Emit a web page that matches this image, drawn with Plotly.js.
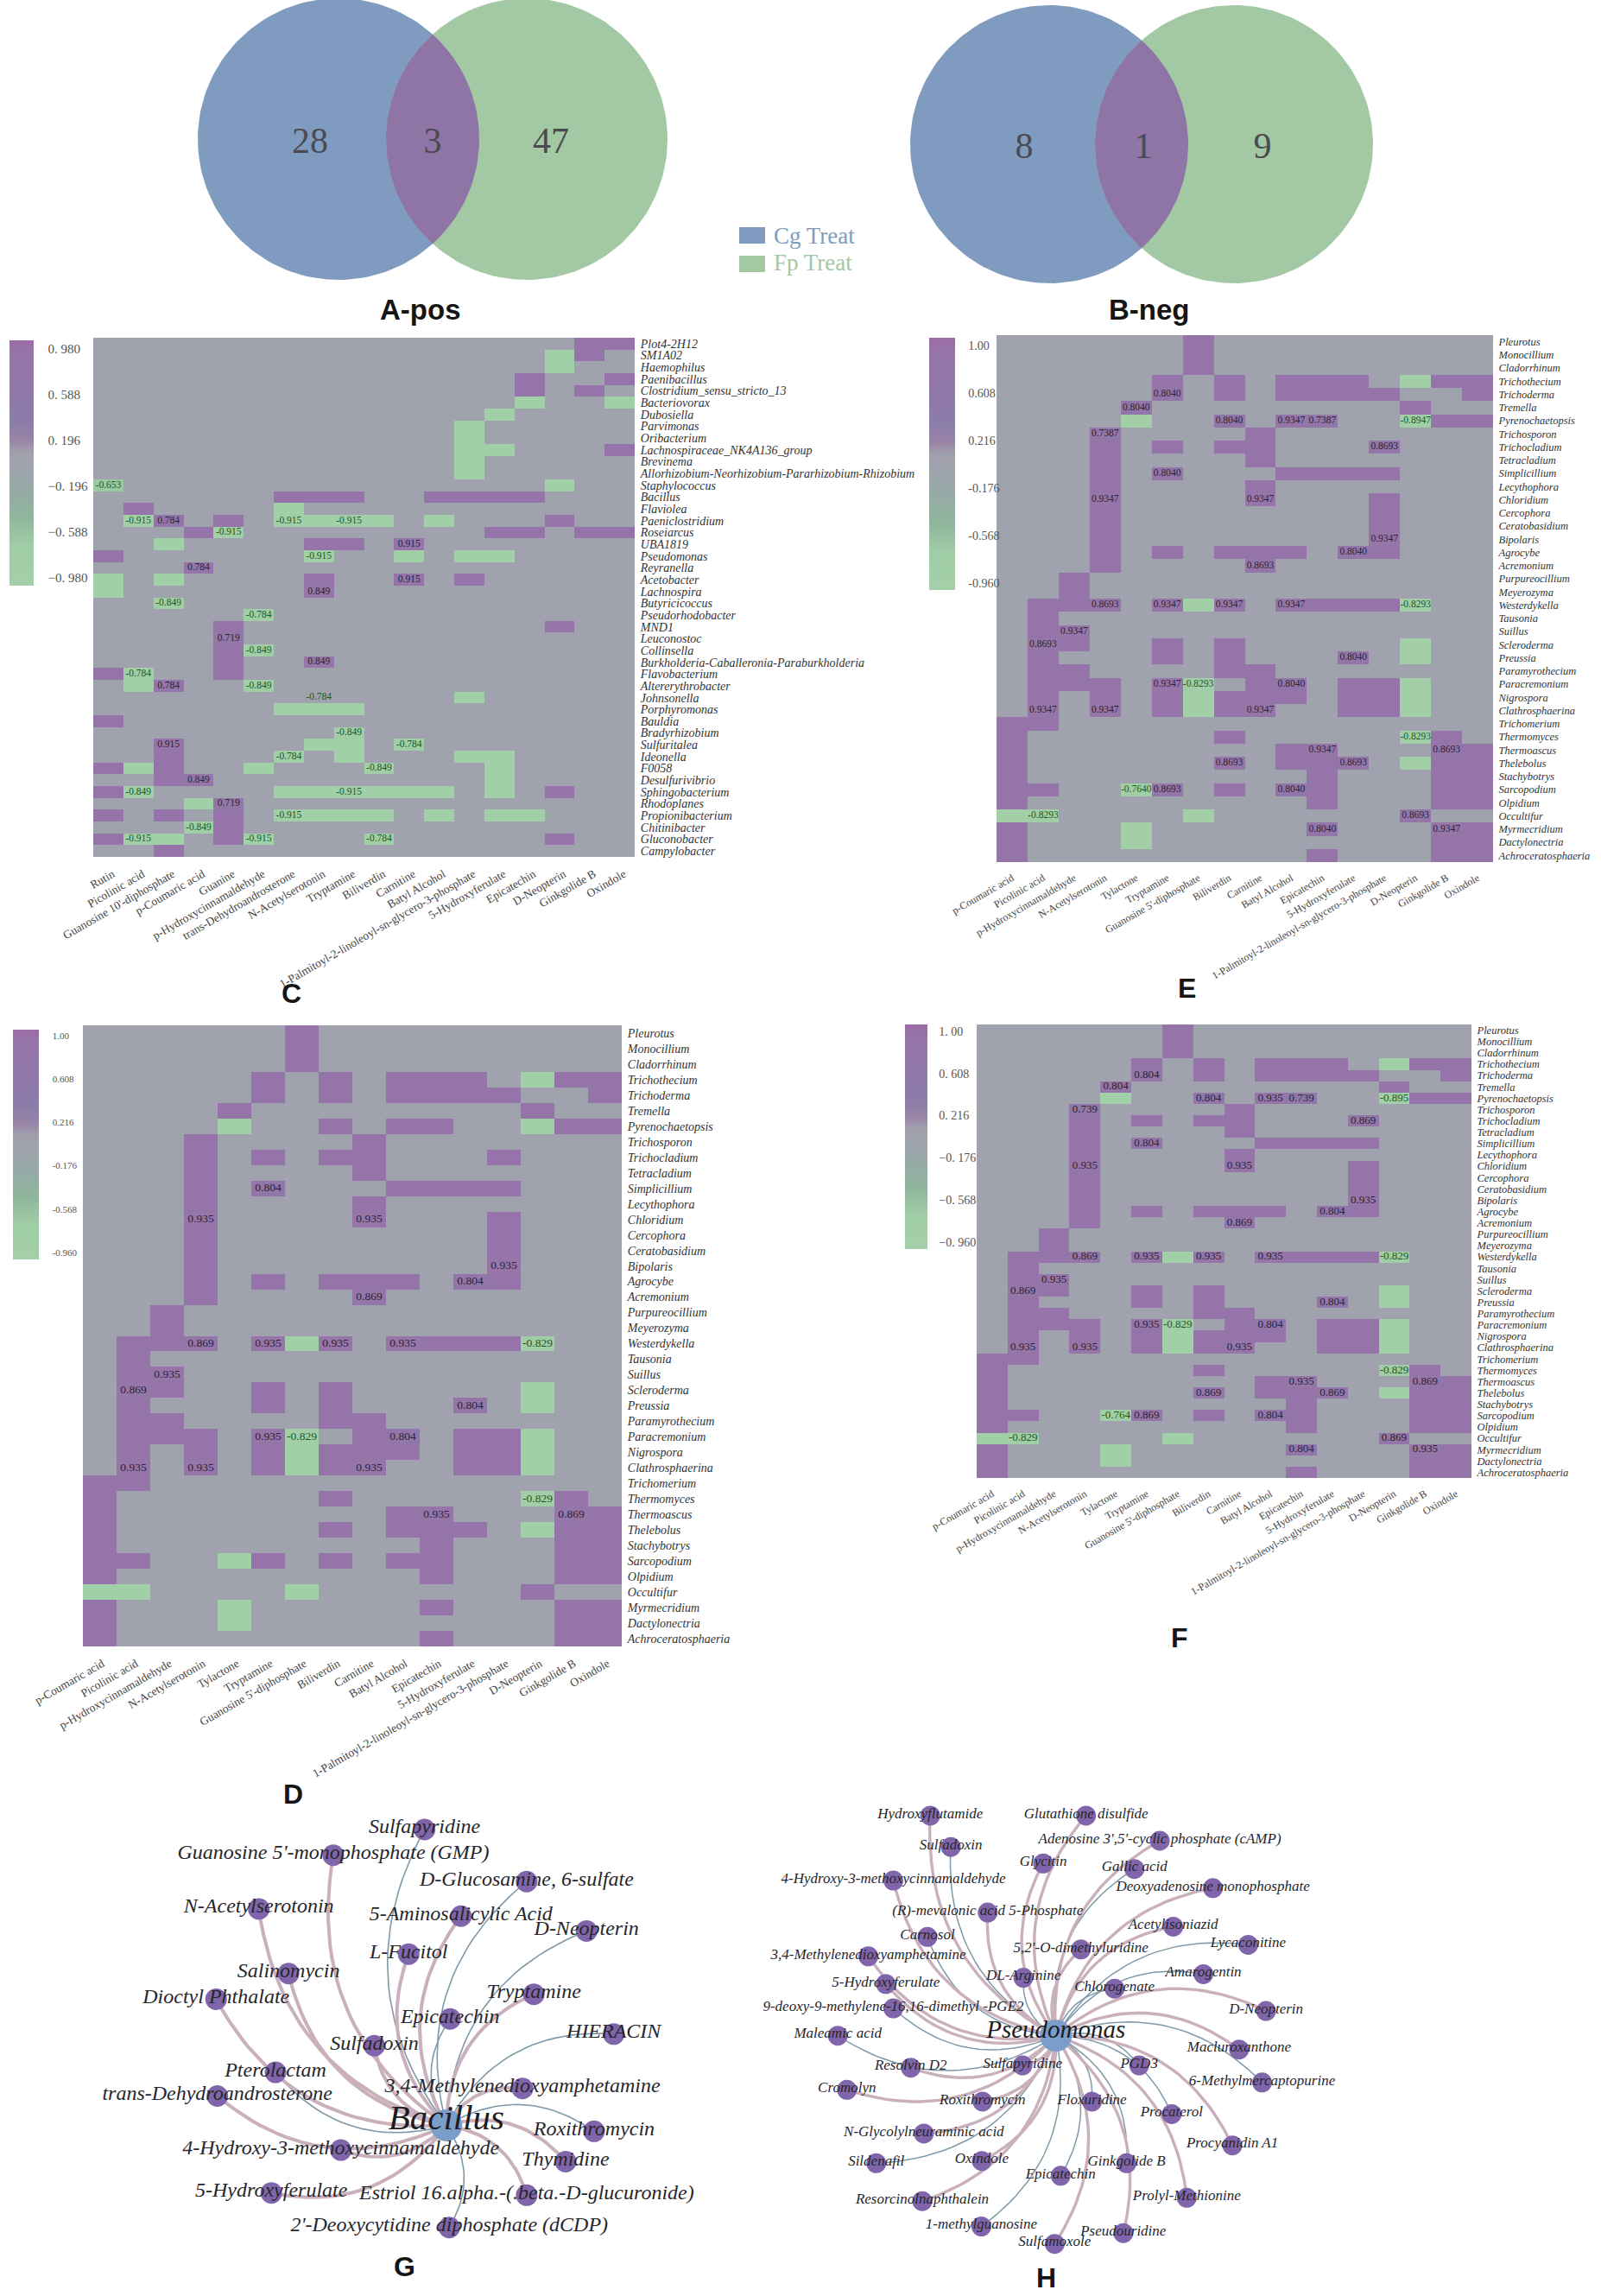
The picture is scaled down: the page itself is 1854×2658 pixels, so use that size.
<!DOCTYPE html>
<html><head><meta charset="utf-8">
<script src="https://cdn.plot.ly/plotly-3.0.1.min.js"></script>
<style>html,body{margin:0;padding:0;background:#fff}</style></head>
<body><div id="chart"></div>
<script>
const W=1854,H=2658;
// ---------- Venn data
const vennPosCounts=[28,3,47], vennNegCounts=[8,1,9];
const vennSetNames=["Cg Treat","Fp Treat"];
// ---------- Panel C
const bacteriaGenera=["Plot4-2H12","SM1A02","Haemophilus","Paenibacillus","Clostridium_sensu_stricto_13","Bacteriovorax","Dubosiella","Parvimonas","Oribacterium","Lachnospiraceae_NK4A136_group","Brevinema","Allorhizobium-Neorhizobium-Pararhizobium-Rhizobium","Staphylococcus","Bacillus","Flaviolea","Paeniclostridium","Roseiarcus","UBA1819","Pseudomonas","Reyranella","Acetobacter","Lachnospira","Butyricicoccus","Pseudorhodobacter","MND1","Leuconostoc","Collinsella","Burkholderia-Caballeronia-Paraburkholderia","Flavobacterium","Altererythrobacter","Johnsonella","Porphyromonas","Bauldia","Bradyrhizobium","Sulfuritalea","Ideonella","F0058","Desulfurivibrio","Sphingobacterium","Rhodoplanes","Propionibacterium","Chitinibacter","Gluconobacter","Campylobacter"];
const bacteriaMetabolites=["Rutin","Picolinic acid","Guanosine 10'-diphosphate","p-Coumaric acid","Guanine","p-Hydroxycinnamaldehyde","trans-Dehydroandrosterone","N-Acetylserotonin","Tryptamine","Biliverdin","Carnitine","Batyl Alcohol","1-Palmitoyl-2-linoleoyl-sn-glycero-3-phosphate","5-Hydroxyferulate","Epicatechin","D-Neopterin","Ginkgolide B","Oxindole"];
const bacteriaPositive=[[16,17],[16],[],[14,17],[14,16],[],[],[],[],[17],[],[],[],[6,7,8,11,12,13,14],[1],[2,4,15],[3,13,14,16,17],[7,8,10],[0],[3],[7,10,12],[7],[],[],[4,15],[4],[4],[4,7],[0,4],[2],[],[],[0],[],[2],[2],[0,2],[2,3],[0,15],[4],[0,2,4],[4],[0,4,15],[2]];
const bacteriaNegative=[[],[15],[15],[],[],[14,17],[13],[12],[12],[12,13],[12],[12],[0,15],[],[6],[1,6,7,8,9,11],[4],[2],[7,10,12,13],[],[0,2],[0],[2],[5],[],[],[5],[],[1],[1,5],[12],[6,7,8],[],[8],[7,8,10],[6,8,12,13],[1,5,9,13],[13],[1,6,7,8,9,10,11,13],[3],[6,7,8,9,11,13,14],[3],[1,2,5,9],[]];
const labelsC=[[12,0,-0.653],[15,1,-0.915],[15,2,0.784],[15,6,-0.915],[15,8,-0.915],[16,4,-0.915],[17,10,0.915],[18,7,-0.915],[19,3,0.784],[20,10,0.915],[21,7,0.849],[22,2,-0.849],[23,5,-0.784],[25,4,0.719],[26,5,-0.849],[27,7,0.849],[28,1,-0.784],[29,2,0.784],[29,5,-0.849],[30,7,-0.784],[33,8,-0.849],[34,2,0.915],[34,10,-0.784],[35,6,-0.784],[36,9,-0.849],[37,3,0.849],[38,1,-0.849],[38,8,-0.915],[39,4,0.719],[40,6,-0.915],[41,3,-0.849],[42,1,-0.915],[42,5,-0.915],[42,9,-0.784]];
// ---------- Panels D, E, F
const fungiGenera=["Pleurotus","Monocillium","Cladorrhinum","Trichothecium","Trichoderma","Tremella","Pyrenochaetopsis","Trichosporon","Trichocladium","Tetracladium","Simplicillium","Lecythophora","Chloridium","Cercophora","Ceratobasidium","Bipolaris","Agrocybe","Acremonium","Purpureocillium","Meyerozyma","Westerdykella","Tausonia","Suillus","Scleroderma","Preussia","Paramyrothecium","Paracremonium","Nigrospora","Clathrosphaerina","Trichomerium","Thermomyces","Thermoascus","Thelebolus","Stachybotrys","Sarcopodium","Olpidium","Occultifur","Myrmecridium","Dactylonectria","Achroceratosphaeria"];
const fungiMetabolites=["p-Coumaric acid","Picolinic acid","p-Hydroxycinnamaldehyde","N-Acetylserotonin","Tylactone","Tryptamine","Guanosine 5'-diphosphate","Biliverdin","Carnitine","Batyl Alcohol","Epicatechin","5-Hydroxyferulate","1-Palmitoyl-2-linoleoyl-sn-glycero-3-phosphate","D-Neopterin","Ginkgolide B","Oxindole"];
const fungiPositive=[[6],[6],[6],[5,7,9,10,11,14,15],[5,7,9,10,11,12,15],[4,13],[7,9,10,14,15],[3,8],[3,5,7,8,12],[3,8],[3,5,9,10,11,12],[3,8],[3,8,12],[3,12],[3,12],[3,12],[3,5,7,8,9,11,12],[3,8],[2],[2],[1,2,3,5,7,9,10,11,12],[1],[1,2],[1,2,5,7],[1,5,7,11],[1,2,7,8],[1,2,3,5,8,9,11,12],[1,3,5,7,8,9,11,12],[1,3,5,7,8,11,12],[0,1],[0,7,14],[0,9,10,14,15],[0,7,9,10,11,14,15],[0,10,14,15],[0,1,5,7,9,10,14,15],[0,10,14,15],[13],[0,10,14,15],[0,14,15],[0,10,14,15]];
const fungiNegative=[[],[],[],[13],[],[],[4,13],[],[],[],[],[],[],[],[],[],[],[],[],[],[6,13],[],[],[13],[13],[],[6,13],[6,13],[6,13],[],[13],[],[13],[],[4],[],[0,1,6],[4],[4],[]];
const labelsD=[[10,5,0.804],[12,3,0.935],[12,8,0.935],[15,12,0.935],[16,11,0.804],[17,8,0.869],[20,3,0.869],[20,5,0.935],[20,7,0.935],[20,9,0.935],[20,13,-0.829],[22,2,0.935],[23,1,0.869],[24,11,0.804],[26,5,0.935],[26,6,-0.829],[26,9,0.804],[28,1,0.935],[28,3,0.935],[28,8,0.935],[30,13,-0.829],[31,10,0.935],[31,14,0.869]];
const labelsE=[[4,5,0.8040],[5,4,0.8040],[6,7,0.8040],[6,9,0.9347],[6,10,0.7387],[6,13,-0.8947],[7,3,0.7387],[8,12,0.8693],[10,5,0.8040],[12,3,0.9347],[12,8,0.9347],[15,12,0.9347],[16,11,0.8040],[17,8,0.8693],[20,3,0.8693],[20,5,0.9347],[20,7,0.9347],[20,9,0.9347],[20,13,-0.8293],[22,2,0.9347],[23,1,0.8693],[24,11,0.8040],[26,5,0.9347],[26,6,-0.8293],[26,9,0.8040],[28,1,0.9347],[28,3,0.9347],[28,8,0.9347],[30,13,-0.8293],[31,10,0.9347],[31,14,0.8693],[32,7,0.8693],[32,11,0.8693],[34,4,-0.7640],[34,5,0.8693],[34,9,0.8040],[36,1,-0.8293],[36,13,0.8693],[37,10,0.8040],[37,14,0.9347]];
const labelsF=[[4,5,0.804],[5,4,0.804],[6,7,0.804],[6,9,0.935],[6,10,0.739],[6,13,-0.895],[7,3,0.739],[8,12,0.869],[10,5,0.804],[12,3,0.935],[12,8,0.935],[15,12,0.935],[16,11,0.804],[17,8,0.869],[20,3,0.869],[20,5,0.935],[20,7,0.935],[20,9,0.935],[20,13,-0.829],[22,2,0.935],[23,1,0.869],[24,11,0.804],[26,5,0.935],[26,6,-0.829],[26,9,0.804],[28,1,0.935],[28,3,0.935],[28,8,0.935],[30,13,-0.829],[31,10,0.935],[31,14,0.869],[32,7,0.869],[32,11,0.869],[34,4,-0.764],[34,5,0.869],[34,9,0.804],[36,1,-0.829],[36,13,0.869],[37,10,0.804],[37,14,0.935]];
const colorTicksC=[0.98,0.588,0.196,-0.196,-0.588,-0.98];
const colorTickTextC=["0. 980","0. 588","0. 196","−0. 196","−0. 588","−0. 980"];
const colorTicksDEF=[1,0.608,0.216,-0.176,-0.568,-0.96];
const colorTickTextDE=["1.00","0.608","0.216","-0.176","-0.568","-0.960"];
const colorTickTextF=["1. 00","0. 608","0. 216","−0. 176","−0. 568","−0. 960"];
// ---------- Panel G network (positions in the network's own layout units)
const gHub="Bacillus", gHubX=860, gHubY=1050;
const gNames=["Sulfapyridine","Guanosine 5'-monophosphate (GMP)","D-Glucosamine, 6-sulfate","N-Acetylserotonin","5-Aminosalicylic Acid","D-Neopterin","L-Fucitol","Salinomycin","Dioctyl Phthalate","Tryptamine","Epicatechin","HIERACIN","Sulfadoxin","Pterolactam","3,4-Methylenedioxyamphetamine","trans-Dehydroandrosterone","Roxithromycin","4-Hydroxy-3-methoxycinnamaldehyde","Thymidine","5-Hydroxyferulate","Estriol 16.alpha.-(.beta.-D-glucuronide)","2'-Deoxycytidine diphosphate (dCDP)"];
const gX=[808,590,1052,412,895,1195,770,483,310,1069,869,1260,688,452,1042,313,1213,608,1145,442,1052,867];
const gY=[152,230,310,393,415,460,530,589,667,652,727,773,808,889,938,961,1068,1125,1160,1255,1262,1360];
const gPositive=[0,1,0,1,1,0,1,1,1,1,0,0,1,0,1,1,0,1,1,1,1,0];
// ---------- Panel H network
const hHub="Pseudomonas", hHubX=790, hHubY=778;
const hNames=["Hydroxyflutamide","Glutathione disulfide","Sulfadoxin","Adenosine 3',5'-cyclic phosphate (cAMP)","Glycitin","Gallic acid","4-Hydroxy-3-methoxycinnamaldehyde","Deoxyadenosine monophosphate","(R)-mevalonic acid 5-Phosphate","Acetylisoniazid","Carnosol","Lycaconitine","5,2'-O-dimethyluridine","3,4-Methylenedioxyamphetamine","Amarogentin","DL-Arginine","5-Hydroxyferulate","Chlorogenate","9-deoxy-9-methylene-16,16-dimethyl -PGE2","D-Neopterin","Maleamic acid","Macluroxanthone","Sulfapyridine","Resolvin D2","PGD3","6-Methylmercaptopurine","Cromolyn","Roxithromycin","Floxuridine","Procaterol","N-Glycolylneuraminic acid","Sildenafil","Procyanidin A1","Oxindole","Ginkgolide B","Epicatechin","Resorcinolnaphthalein","Prolyl-Methionine","1-methylguanosine","Pseudouridine","Sulfamoxole"];
const hX=[473,866,525,1052,758,988,380,1186,618,1086,466,1275,853,317,1162,708,361,938,380,1320,240,1252,706,424,1000,1310,263,605,881,1082,457,337,1235,603,968,802,453,1120,602,960,787];
const hY=[110,110,205,186,255,272,307,330,404,447,478,502,516,537,591,602,621,635,695,703,778,820,868,875,868,920,942,978,978,1016,1075,1165,1111,1158,1165,1203,1280,1270,1357,1377,1410];
const hPositive=[1,1,0,1,1,0,1,1,1,1,0,0,1,1,0,0,1,0,0,1,0,1,1,1,0,0,1,1,0,0,1,0,1,1,0,0,1,1,0,1,1];

// ---------- helpers
const SERIF='"Liberation Serif","Times New Roman",serif', SANS='"Liberation Sans",Arial,sans-serif';
const BLUE='#7f9cc0',GREEN='#a3c8a4',LENS='#8f74a6';
const dx=(a,b)=>[a/W,b/W], dy=(a,b)=>[1-b/H,1-a/H];
const ital=s=>'<i>'+s+'</i>';
const colorStops=[[-1.2,'#a3d0a9'],[-0.7,'#9fcda6'],[-0.45,'#8fb59c'],[-0.2,'#97a9a8'],[0,'#a0a3ae'],[0.1,'#a0a0ac'],[0.2,'#9a84a6'],[0.35,'#8b7daa'],[0.6,'#9078a9'],[0.95,'#9675a9'],[1.2,'#9c6aa8']];
function scaleFor(lo,hi){
  const out=[[0,colorStops[0][1]]];
  colorStops.forEach(s=>{const t=(s[0]-lo)/(hi-lo); if(t>0&&t<1) out.push([t,s[1]]);});
  out.push([1,colorStops[colorStops.length-1][1]]);
  return out;
}
const traces=[],annotations=[],shapes=[];
const layout={width:W,height:H,margin:{l:0,r:0,t:0,b:0,pad:0},paper_bgcolor:'#fff',plot_bgcolor:'#fff',showlegend:false,hovermode:false,annotations,shapes,font:{family:SERIF}};
function heatPanel(n,o){
  const sfx=n===1?'':String(n), xa='xaxis'+sfx, ya='yaxis'+sfx, xr='x'+sfx, yr='y'+sfx;
  const z=o.rows.map((_,r)=>o.cols.map((_,c)=>{
    const lab=o.labels.find(l=>l[0]===r&&l[1]===c);
    if(o.pos[r].includes(c)) return lab?lab[2]:0.9;
    if(o.neg[r].includes(c)) return lab?lab[2]:-0.9;
    return 0;
  }));
  traces.push({type:'heatmap',x:o.cols,y:o.rows,z,xaxis:xr,yaxis:yr,zmin:o.zr[0],zmax:o.zr[1],colorscale:scaleFor(o.zr[0],o.zr[1]),hoverinfo:'skip',
    colorbar:{x:o.cb[0]/W,xanchor:'left',xref:'paper',y:1-o.cb[1]/H,yanchor:'top',yref:'paper',thicknessmode:'pixels',thickness:o.cb[2],lenmode:'pixels',len:o.cb[3],xpad:0,ypad:0,outlinewidth:0,borderwidth:0,
      tickmode:'array',tickvals:o.ticks,ticktext:o.tickText,ticks:'outside',ticklen:o.cbGap,tickcolor:'rgba(0,0,0,0)',tickfont:{family:SERIF,size:o.cbFont,color:'#555'}}});
  [[l=>l[2]>=0,'#2a2433'],[l=>l[2]<0,'#1b5a24']].forEach(([f,col])=>{
    const L=o.labels.filter(f);
    traces.push({type:'scatter',mode:'text',xaxis:xr,yaxis:yr,x:L.map(l=>o.cols[l[1]]),y:L.map(l=>o.rows[l[0]]),text:L.map(l=>l[2].toFixed(o.dec)),textposition:'middle center',textfont:{family:SERIF,size:o.cellFont,color:col},hoverinfo:'skip',cliponaxis:false});
  });
  layout[xa]={domain:dx(o.px[0],o.px[1]),anchor:yr,type:'category',categoryorder:'array',categoryarray:o.cols,range:[-0.5,o.cols.length-0.5],tickmode:'array',tickvals:o.cols,ticktext:o.cols,tickangle:-30,ticklabelshift:o.xShift,ticks:'outside',ticklen:6,tickcolor:'rgba(0,0,0,0)',showgrid:false,zeroline:false,showline:false,tickfont:{family:SERIF,size:o.xFont,color:'#444'},automargin:false};
  layout[ya]={domain:dy(o.py[0],o.py[1]),anchor:xr,type:'category',categoryorder:'array',categoryarray:o.rows,range:[o.rows.length-0.5,-0.5],side:'right',tickmode:'array',tickvals:o.rows,ticktext:o.rows.map(ital),ticks:'outside',ticklen:3,tickcolor:'rgba(0,0,0,0)',showgrid:false,zeroline:false,showline:false,tickfont:{family:SERIF,size:o.yFont,color:'#333'},automargin:false};
}
heatPanel(1,{rows:bacteriaGenera,cols:bacteriaMetabolites,pos:bacteriaPositive,neg:bacteriaNegative,labels:labelsC,dec:3,px:[108,735],py:[391,992],zr:[-1.047,1.054],cb:[11,394,28,284],cbGap:14,cbFont:15,ticks:colorTicksC,tickText:colorTickTextC,cellFont:11.5,xFont:13.5,yFont:14,xShift:5});
heatPanel(2,{rows:fungiGenera,cols:fungiMetabolites,pos:fungiPositive,neg:fungiNegative,labels:labelsE,dec:4,px:[1154,1729],py:[388,998],zr:[-1.017,1.064],cb:[1076,391,30,292],cbGap:13,cbFont:14,ticks:colorTicksDEF,tickText:colorTickTextDE,cellFont:11.5,xFont:12,yFont:12.5,xShift:0});
heatPanel(3,{rows:fungiGenera,cols:fungiMetabolites,pos:fungiPositive,neg:fungiNegative,labels:labelsD,dec:3,px:[96,720],py:[1187,1906],zr:[-1.0225,1.055],cb:[15,1192,30,266],cbGap:14,cbFont:11,ticks:colorTicksDEF,tickText:colorTickTextDE,cellFont:13.5,xFont:13.5,yFont:14,xShift:3});
heatPanel(4,{rows:fungiGenera,cols:fungiMetabolites,pos:fungiPositive,neg:fungiNegative,labels:labelsF,dec:3,px:[1131,1704],py:[1186,1711],zr:[-1.024,1.064],cb:[1048,1186,26,260],cbGap:11,cbFont:14,ticks:colorTicksDEF,tickText:colorTickTextF,cellFont:13,xFont:12,yFont:12.5,xShift:0});

// ---------- Venn (axis units = layout units of the two diagrams)
layout.xaxis5={domain:[0,1],range:[0,W],anchor:'y5',visible:false,fixedrange:true};
layout.yaxis5={domain:dy(0,345),range:[345,0],anchor:'x5',visible:false,fixedrange:true};
function circ(cx,cy,r){const a=[];for(let i=0;i<=360;i+=2){a.push([cx+r*Math.cos(i*Math.PI/180),cy+r*Math.sin(i*Math.PI/180)]);}return a;}
function venn(c1,c2,r,cy,counts,tx,ty){
  const A=circ(c1,cy,r),B=circ(c2,cy,r);
  const lens=[...B.filter(p=>Math.hypot(p[0]-c1,p[1]-cy)<=r&&p[0]<c2).sort((p,q)=>p[1]-q[1]),...A.filter(p=>Math.hypot(p[0]-c2,p[1]-cy)<=r&&p[0]>c1).sort((p,q)=>q[1]-p[1])];
  [[A,BLUE],[B,GREEN],[lens,LENS]].forEach(([P,col])=>traces.push({type:'scatter',mode:'lines',xaxis:'x5',yaxis:'y5',x:P.map(p=>p[0]),y:P.map(p=>p[1]),fill:'toself',fillcolor:col,line:{width:0,color:col},hoverinfo:'skip'}));
  traces.push({type:'scatter',mode:'text',xaxis:'x5',yaxis:'y5',x:tx,y:tx.map(()=>ty),text:counts.map(String),textposition:'middle center',textfont:{family:SERIF,size:42,color:'#4a4a50'},hoverinfo:'skip'});
}
venn(392,610,163,161,vennPosCounts,[359,501,638],166);
venn(1215,1429,161,167,vennNegCounts,[1186,1324,1462],172);
shapes.push({type:'rect',xref:'x5',yref:'y5',x0:856,x1:886,y0:263,y1:282,fillcolor:BLUE,line:{width:0}});
shapes.push({type:'rect',xref:'x5',yref:'y5',x0:856,x1:886,y0:296,y1:315,fillcolor:GREEN,line:{width:0}});
traces.push({type:'scatter',mode:'text',xaxis:'x5',yaxis:'y5',x:[896],y:[275],text:[vennSetNames[0]],textposition:'middle right',textfont:{family:SERIF,size:27,color:BLUE},hoverinfo:'skip'});
traces.push({type:'scatter',mode:'text',xaxis:'x5',yaxis:'y5',x:[896],y:[306],text:[vennSetNames[1]],textposition:'middle right',textfont:{family:SERIF,size:27,color:GREEN},hoverinfo:'skip'});

// ---------- Networks
function network(n,o){
  const xr='x'+n,yr='y'+n;
  layout['xaxis'+n]={domain:dx(o.px[0],o.px[1]),range:[0,1568],anchor:yr,visible:false,fixedrange:true};
  layout['yaxis'+n]={domain:dy(o.py[0],o.py[1]),range:[1568,0],anchor:xr,visible:false,fixedrange:true};
  const k=(o.px[1]-o.px[0])/1568, m=(o.py[1]-o.py[0])/1568;
  const curves=[[],[]];
  o.x.forEach((x,i)=>{
    // curve bends to the left of the hub-to-node heading, measured on the page
    const ax=o.hx*k,ay=o.hy*m,bx=x*k,by=o.y[i]*m;
    const cx=(ax+bx)/2+(by-ay)*0.32,cy=(ay+by)/2-(bx-ax)*0.32;
    const X=[],Y=[];
    for(let t=0;t<=1.0001;t+=0.04){const u=1-t;X.push((u*u*ax+2*u*t*cx+t*t*bx)/k);Y.push((u*u*ay+2*u*t*cy+t*t*by)/m);}
    curves[o.pos[i]].push([X,Y]);
  });
  [[0,'#7f99a9',o.thin],[1,'#c9b0ba',o.thick]].forEach(([s,col,w])=>{
    const X=[],Y=[];curves[s].forEach(c=>{X.push(...c[0],null);Y.push(...c[1],null);});
    traces.push({type:'scatter',mode:'lines',xaxis:xr,yaxis:yr,x:X,y:Y,line:{color:col,width:w,shape:'linear'},hoverinfo:'skip',cliponaxis:false});
  });
  traces.push({type:'scatter',mode:'markers',xaxis:xr,yaxis:yr,x:o.x,y:o.y,marker:{color:'#8065aa',size:o.node},hoverinfo:'skip',cliponaxis:false});
  traces.push({type:'scatter',mode:'markers',xaxis:xr,yaxis:yr,x:[o.hx],y:[o.hy],marker:{color:'#7a9dc9',size:o.hub},hoverinfo:'skip',cliponaxis:false});
  traces.push({type:'scatter',mode:'text',xaxis:xr,yaxis:yr,x:o.x,y:o.y.map(v=>v-4),text:o.names.map(ital),textposition:'middle center',textfont:{family:SERIF,size:o.font,color:'#26262c'},hoverinfo:'skip',cliponaxis:false});
  traces.push({type:'scatter',mode:'text',xaxis:xr,yaxis:yr,x:[o.hx],y:[o.hy-14],text:[ital(o.hub_name)],textposition:'middle center',textfont:{family:SERIF,size:o.hubFont,color:'#1c1c22'},hoverinfo:'skip',cliponaxis:false});
}
network(6,{names:gNames,x:gX,y:gY,pos:gPositive,hx:gHubX,hy:gHubY,hub_name:gHub,px:[100,860],py:[2060,2658],node:25,hub:37,font:24,hubFont:41,thin:1.6,thick:4});
network(7,{names:hNames,x:hX,y:hY,pos:hPositive,hx:hHubX,hy:hHubY,hub_name:hHub,px:[860,1580],py:[2060,2658],node:23,hub:37,font:17,hubFont:29,thin:1.5,thick:3.4});

// ---------- Panel letters and Venn captions
[["A-pos",487,358,33],["B-neg",1331,358,33],["C",337,1150,32],["E",1374,1144,32],["D",339,2077,32],["F",1366,1896,32],["G",468,2624,32],["H",1211,2637,32]].forEach(([t,x,y,s])=>annotations.push({text:t,x:x/W,y:1-y/H,xref:'paper',yref:'paper',xanchor:'center',yanchor:'middle',showarrow:false,font:{family:SANS,size:s,color:'#151515',weight:700}}));

Plotly.newPlot('chart',traces,layout,{displayModeBar:false,responsive:false});
</script></body></html>
